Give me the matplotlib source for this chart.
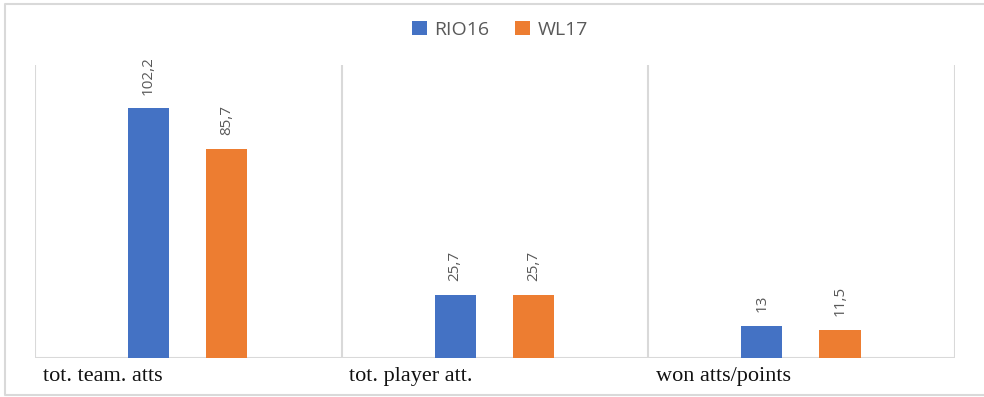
import matplotlib.pyplot as plt
import numpy as np
from matplotlib.lines import Line2D

categories = ["tot. team. atts", "tot. player att.", "won atts/points"]
series_names = ["RIO16", "WL17"]
rio16 = [102.2, 25.7, 13]
wl17 = [85.7, 25.7, 11.5]

colors = ["#4472C4", "#ED7D31"]
grid_col = "#D9D9D9"

fig = plt.figure(figsize=(9.84, 3.97), dpi=100)
ax = fig.add_axes([35 / 984, (397 - 358) / 397, (955 - 35) / 984, (358 - 65) / 397])

x = np.arange(len(categories))
w = 0.134
offs = [-0.13, 0.125]
for vals, off, col, name in zip([rio16, wl17], offs, colors, series_names):
    bars = ax.bar(x + off, vals, width=w, color=col, label=name, zorder=3)
    for b, v in zip(bars, vals):
        lbl = f"{v:g}".replace(".", ",")
        ax.annotate(lbl, (b.get_x() + b.get_width() / 2, b.get_height()),
                    xytext=(0, 10), textcoords="offset points",
                    rotation=90, ha="center", va="bottom",
                    fontsize=11, color="#595959", family="Open Sans")

ax.set_xlim(-0.5, len(categories) - 0.5)
ax.set_ylim(0, 120)

# category separators
for b in np.arange(-0.5, len(categories), 1.0):
    ax.axvline(b, color=grid_col, lw=1.5, zorder=1)
ax.axhline(0, color=grid_col, lw=1.5, zorder=2)

for s in ax.spines.values():
    s.set_visible(False)
ax.set_xticks([])
ax.set_yticks([])

for i, c in enumerate(categories):
    ax.text(i - 0.475, -3.5, c, ha="left", va="top", fontsize=16,
            family="Liberation Serif", color="#111111")

leg = fig.legend(loc="center", bbox_to_anchor=(500 / 984, 1 - 30 / 397),
                 ncol=2, frameon=False, handlelength=0.75,
                 handleheight=0.75, handletextpad=0.4, columnspacing=1.3,
                 prop={"family": "Open Sans", "size": 14})
for t in leg.get_texts():
    t.set_color("#595959")

# outer chart border (left, top, bottom only)
fx = [984 / 984, 5 / 984, 5 / 984, 984 / 984]
fy = [1 - 4 / 397, 1 - 4 / 397, 1 - 395 / 397, 1 - 395 / 397]
fig.add_artist(Line2D(fx, fy, transform=fig.transFigure, color=grid_col, lw=1.5))

fig.savefig("out.png", dpi=100)
